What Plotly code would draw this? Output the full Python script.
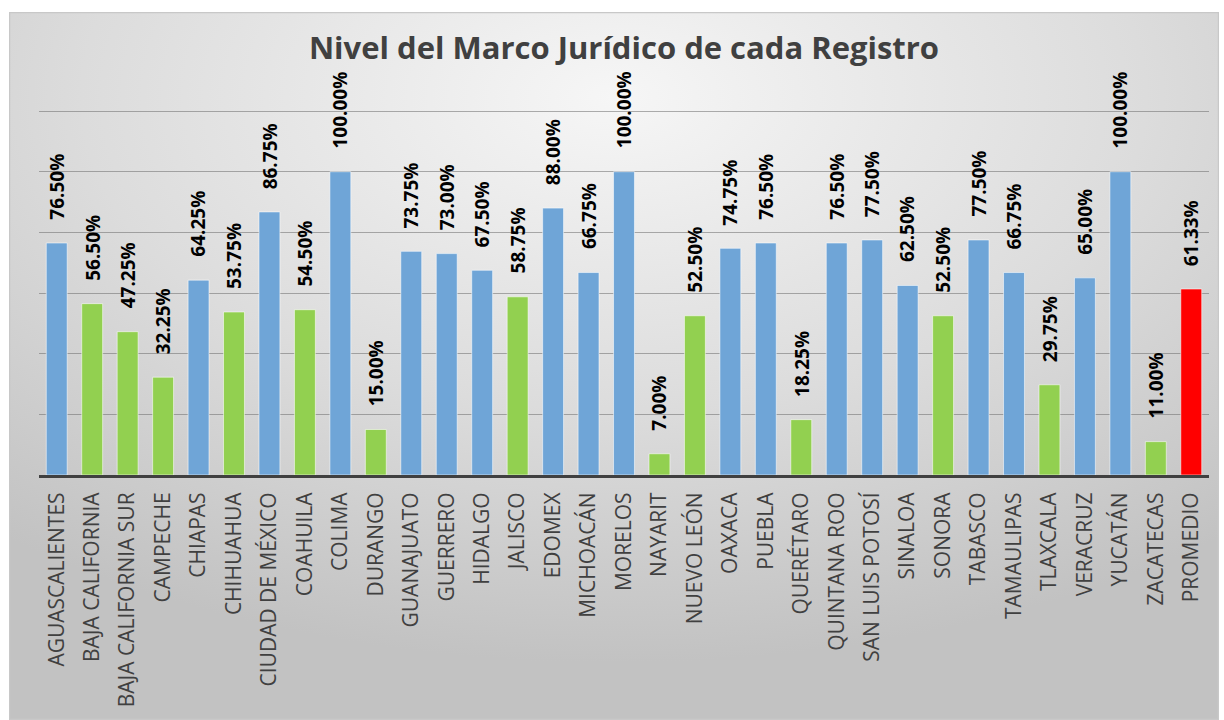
import base64
import plotly.graph_objects as go

categories = [
    "AGUASCALIENTES", "BAJA CALIFORNIA", "BAJA CALIFORNIA SUR", "CAMPECHE", "CHIAPAS",
    "CHIHUAHUA", "CIUDAD DE MÉXICO", "COAHUILA", "COLIMA", "DURANGO", "GUANAJUATO",
    "GUERRERO", "HIDALGO", "JALISCO", "EDOMEX", "MICHOACÁN", "MORELOS", "NAYARIT",
    "NUEVO LEÓN", "OAXACA", "PUEBLA", "QUERÉTARO", "QUINTANA ROO", "SAN LUIS POTOSÍ",
    "SINALOA", "SONORA", "TABASCO", "TAMAULIPAS", "TLAXCALA", "VERACRUZ", "YUCATÁN",
    "ZACATECAS", "PROMEDIO",
]
values = [
    0.7650, 0.5650, 0.4725, 0.3225, 0.6425, 0.5375, 0.8675, 0.5450, 1.0000, 0.1500,
    0.7375, 0.7300, 0.6750, 0.5875, 0.8800, 0.6675, 1.0000, 0.0700, 0.5250, 0.7475,
    0.7650, 0.1825, 0.7650, 0.7750, 0.6250, 0.5250, 0.7750, 0.6675, 0.2975, 0.6500,
    1.0000, 0.1100, 0.6133,
]
groups = [
    "alto", "bajo", "bajo", "bajo", "alto", "bajo", "alto", "bajo", "alto", "bajo",
    "alto", "alto", "alto", "bajo", "alto", "alto", "alto", "bajo", "bajo", "alto",
    "alto", "bajo", "alto", "alto", "alto", "bajo", "alto", "alto", "bajo", "alto",
    "alto", "bajo", "promedio",
]
grid_values = [0.2, 0.4, 0.6, 0.8, 1.0, 1.2]
title_text = "Nivel del Marco Jurídico de cada Registro"

color_map = {"alto": "#6fa5d7", "bajo": "#92d050", "promedio": "#ff0000"}
bar_colors = [color_map[g] for g in groups]

W, H = 1224, 720
L, R, T, B = 39, 15, 105, 245
pw, ph = W - L - R, H - T - B

fig = go.Figure()
fig.add_trace(go.Bar(
    x=categories, y=values,
    marker=dict(color=bar_colors, line=dict(color="rgba(255,255,255,0.55)", width=1)),
    hoverinfo="x+y",
))

for c, v in zip(categories, values):
    fig.add_annotation(
        x=c, y=v, xref="x", yref="y",
        text=f"{v*100:.2f}%", textangle=-90,
        showarrow=False, yanchor="bottom", xanchor="center", yshift=21,
        font=dict(family="Open Sans", size=19, color="#000000", weight="bold"),
    )

# background gradient panel (chart area)
svg = (
    '<svg xmlns="http://www.w3.org/2000/svg" width="1210" height="708" '
    'viewBox="0 0 1210 708" preserveAspectRatio="none">'
    '<defs><radialGradient id="g" cx="50%" cy="12%" r="80%">'
    '<stop offset="0%" stop-color="#f6f6f6"/>'
    '<stop offset="55%" stop-color="#dcdcdc"/>'
    '<stop offset="100%" stop-color="#c2c2c2"/>'
    '</radialGradient></defs>'
    '<rect x="0.5" y="0.5" width="1209" height="707" fill="url(#g)" '
    'stroke="#c8c8c8" stroke-width="1.5"/></svg>'
)
src = "data:image/svg+xml;base64," + base64.b64encode(svg.encode()).decode()
x0 = (9 - L) / pw
y_top = 1 + (T - 12) / ph
fig.add_layout_image(
    source=src, xref="paper", yref="paper", x=x0, y=y_top,
    sizex=1210 / pw, sizey=(720 - 12) / ph, sizing="stretch",
    xanchor="left", yanchor="top", layer="below",
)

fig.update_layout(
    width=W, height=H,
    margin=dict(l=L, r=R, t=T, b=B),
    paper_bgcolor="#ffffff",
    plot_bgcolor="rgba(0,0,0,0)",
    bargap=0.41,
    showlegend=False,
    title=dict(
        text=title_text, x=0.5, xref="paper", xanchor="center",
        y=1 - 48 / H, yref="container", yanchor="middle",
        font=dict(family="Open Sans", size=31, color="#404040", weight="bold"),
    ),
    xaxis=dict(
        tickangle=-90, showgrid=False, showline=True, linewidth=3, linecolor="#404040",
        tickfont=dict(family="Open Sans", size=21, color="#404040"),
        ticks="", ticklabelstandoff=6, fixedrange=True,
    ),
    yaxis=dict(
        range=[0, 1.22], tickvals=grid_values,
        showticklabels=False, showgrid=True,
        gridcolor="rgba(110,110,110,0.55)", gridwidth=1, zeroline=False,
        fixedrange=True,
    ),
)

fig.write_html("out.html")
